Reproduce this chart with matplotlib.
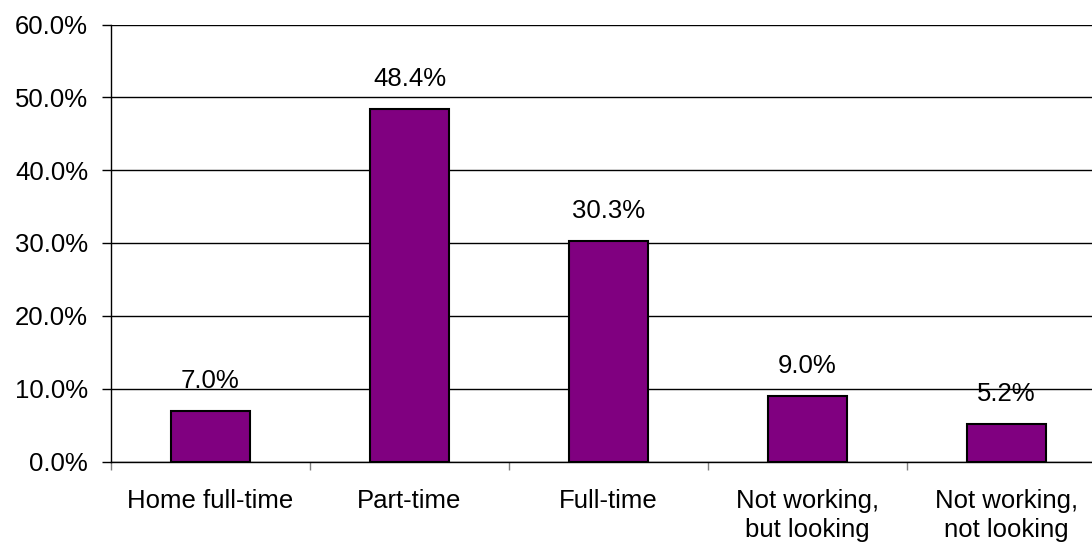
import numpy as np
import matplotlib.pyplot as plt
from matplotlib.ticker import FixedLocator, PercentFormatter

plt.rcParams['font.family'] = ['Liberation Sans', 'DejaVu Sans']

# Datos: situación laboral (%)
categorias = ['Home full-time', 'Part-time', 'Full-time',
              'Not working,\nbut looking', 'Not working,\nnot looking']
valores = [7.0, 48.4, 30.3, 9.0, 5.2]
etiquetas = ['7.0%', '48.4%', '30.3%', '9.0%', '5.2%']

fs = 18.5

fig = plt.figure(figsize=(10.92, 5.52), dpi=100)
ax = fig.add_axes([111 / 1092, 1 - 461.5 / 552, 1 - 111 / 1092, 437 / 552])

x = np.arange(len(categorias))
barras = ax.bar(x, valores, width=0.4, color='#800080', edgecolor='black',
                linewidth=1.5, zorder=3)

for b, v, t in zip(barras, valores, etiquetas):
    ax.annotate(t, (b.get_x() + b.get_width() / 2, v), xytext=(0, 16.5),
                textcoords='offset points', ha='center', va='baseline',
                fontsize=fs, zorder=4)

# Ejes y cuadrícula
ax.set_ylim(0, 60)
ax.set_xlim(-0.5, -0.5 + 981 / 199)
ax.set_yticks(np.arange(0, 61, 10))
ax.yaxis.set_major_formatter(PercentFormatter(decimals=1))
ax.yaxis.grid(True, color='black', linewidth=1, zorder=0)

ax.xaxis.set_major_locator(FixedLocator(np.arange(-0.5, 5, 1)))
ax.xaxis.set_minor_locator(FixedLocator(x))
ax.set_xticklabels([], minor=False)
ax.set_xticklabels(categorias, minor=True, fontsize=fs, linespacing=1.24)
ax.tick_params(axis='x', which='minor', length=0, pad=20)
ax.tick_params(axis='x', which='major', length=6, width=1, color='#808080')
ax.tick_params(axis='y', length=6.5, width=1, labelsize=fs, pad=10)

for s in ['top', 'right']:
    ax.spines[s].set_visible(False)
ax.spines['left'].set_linewidth(1)
ax.spines['bottom'].set_linewidth(1)

fig.savefig('out.png', dpi=100)
